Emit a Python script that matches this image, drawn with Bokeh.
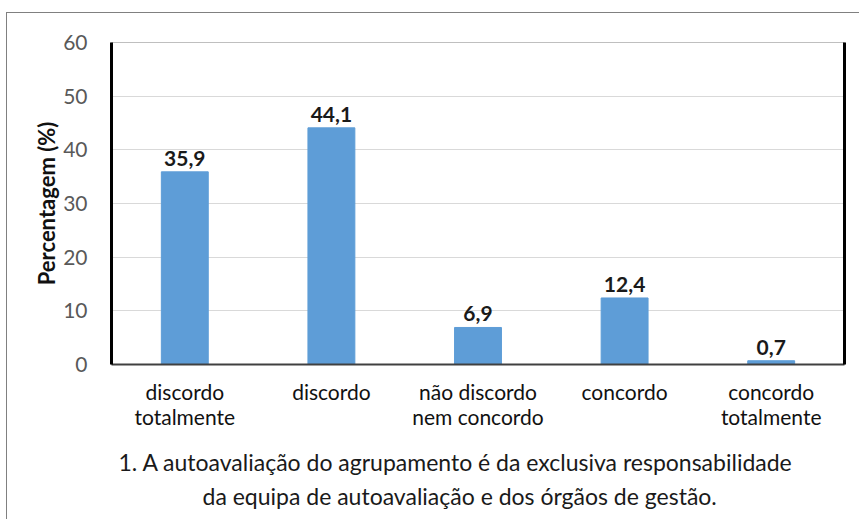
from bokeh.plotting import figure
from bokeh.models import Title, FactorRange, Range1d, LinearAxis, FixedTicker
from bokeh.core.properties import value
from bokeh.embed import file_html
from bokeh.resources import INLINE

categories = ["discordo\ntotalmente", "discordo", "não discordo\nnem concordo",
              "concordo", "concordo\ntotalmente"]
values = [35.9, 44.1, 6.9, 12.4, 0.7]
value_labels = ["35,9", "44,1", "6,9", "12,4", "0,7"]
y_ticks = [0, 10, 20, 30, 40, 50, 60]
y_label = "Percentagem (%)"
caption_lines = ["1. A autoavaliação do agrupamento é da exclusiva responsabilidade",
                 "da equipa de autoavaliação e dos órgãos de gestão."]

FONT = "Lato"
# canvas origin sits at page (7, 13) because of the CSS margin + 1px border
OX, OY = 7, 13
W, H = 853, 507

p = figure(width=W, height=H,
           x_range=FactorRange(factors=categories, range_padding=0),
           y_range=Range1d(0, 60),
           output_backend="svg", toolbar_location=None,
           min_border_left=111 - OX, min_border_top=42 - OY,
           min_border_right=W - (844 - OX), min_border_bottom=H - (364 - OY))
p.styles = {"margin-left": "6px", "margin-top": "12px",
            "border-left": "1px solid #808080", "border-top": "1px solid #808080"}

p.outline_line_color = "#bfbfbf"
p.outline_line_width = 1
p.background_fill_color = "white"
p.border_fill_color = "white"

p.vbar(x=categories, top=values, width=0.32, color="#5E9DD7")
p.text(x=categories, y=values, text=value_labels, text_align="center",
       text_baseline="bottom", y_offset=-6, text_font=value(FONT),
       text_font_style="bold", text_font_size="21px", text_color="#1a1a1a")

p.xgrid.grid_line_color = None
p.ygrid.grid_line_color = "#d9d9d9"
p.ygrid.ticker = FixedTicker(ticks=y_ticks)

xa = p.xaxis[0]
xa.axis_line_color = "#404040"
xa.axis_line_width = 2
xa.major_tick_line_color = None
xa.minor_tick_line_color = None
xa.major_label_text_font = FONT
xa.major_label_text_font_size = "21px"
xa.major_label_text_color = "#111111"
xa.major_label_standoff = 8
xa.major_label_text_line_height = 1.0

ya = p.yaxis[0]
ya.ticker = FixedTicker(ticks=y_ticks)
ya.axis_line_color = "black"
ya.axis_line_width = 3
ya.major_tick_line_color = None
ya.minor_tick_line_color = None
ya.major_label_text_font = FONT
ya.major_label_text_font_size = "21px"
ya.major_label_text_color = "#595959"
ya.major_label_standoff = 18
ya.axis_label = y_label
ya.axis_label_text_font = FONT
ya.axis_label_text_font_size = "22px"
ya.axis_label_text_font_style = "bold"
ya.axis_label_text_color = "#111111"
ya.axis_label_standoff = 0

ra = LinearAxis(axis_line_color="black", axis_line_width=3,
                major_tick_line_color=None, minor_tick_line_color=None,
                major_label_text_font_size="0px",
                ticker=FixedTicker(ticks=[]))
p.add_layout(ra, "right")

caption_offsets = [118 - 111, 202 - 111]
caption_standoffs = [28, -20]
for line, off, so in zip(caption_lines, caption_offsets, caption_standoffs):
    p.add_layout(Title(text=line, align="left", offset=off, standoff=so,
                       text_font=FONT, text_font_size="23px",
                       text_font_style="normal", text_color="#1a1a1a"), "below")

open("out.html", "w").write(file_html(p, INLINE))
